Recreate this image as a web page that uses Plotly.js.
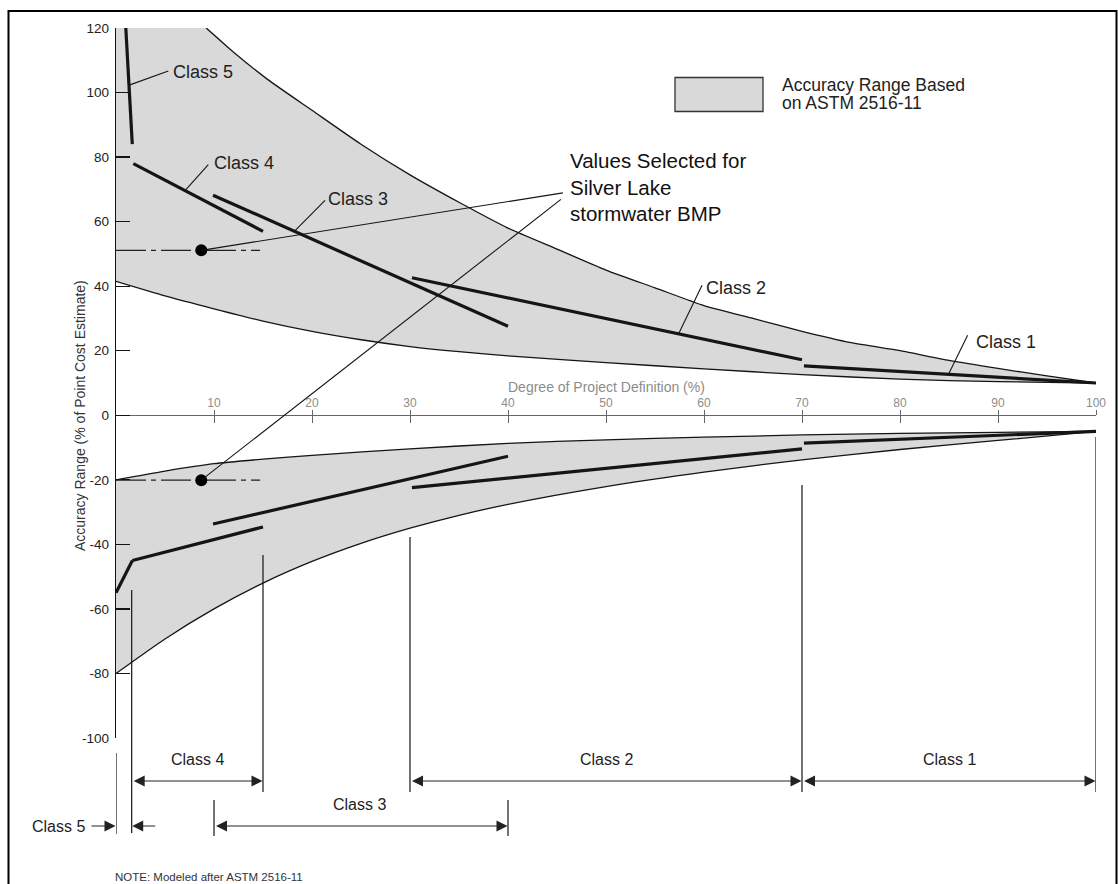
<!DOCTYPE html>
<html><head><meta charset="utf-8">
<script src="https://cdn.plot.ly/plotly-3.0.1.min.js"></script>
<style>html,body{margin:0;padding:0;background:#fff}</style>
</head><body><div id="chart" style="width:1118px;height:884px"></div>
<script>
// ---------- data ----------
// upper (overrun) accuracy band
const upperBandHighX = [9.2, 12, 15.5, 20, 25, 30, 35, 40, 45, 50, 55, 60, 65, 70, 75, 80, 85, 90, 95, 100];
const upperBandHighY = [120, 112.5, 104, 94.5, 84, 74.5, 66, 58, 51.5, 45, 39.5, 34, 30, 26, 22.5, 20, 17, 14.5, 12.2, 10];
const upperBandLowX = [0, 5, 10, 15, 20, 25, 30, 35, 40, 50, 60, 70, 80, 90, 100];
const upperBandLowY = [41.5, 37, 33, 29.2, 26, 23.4, 21.3, 19.7, 18.4, 16.3, 14.4, 12.6, 11.2, 10.4, 10];
// lower (underrun) accuracy band
const lowerBandHighX = [0, 5, 10, 15, 20, 30, 40, 50, 60, 70, 80, 90, 100];
const lowerBandHighY = [-20, -17.3, -15, -13.6, -12.4, -10.4, -8.7, -7.6, -6.8, -6.1, -5.6, -5.3, -5];
const lowerBandLowX = [0, 5, 10, 15, 20, 25, 30, 35, 40, 50, 60, 70, 80, 90, 100];
const lowerBandLowY = [-80, -69.3, -60, -52, -45.3, -39.7, -35, -31, -27.6, -22.1, -17.6, -13.8, -10.6, -7.8, -5];
// class lines
const classNames = ['Class 5', 'Class 4', 'Class 3', 'Class 2', 'Class 1'];
const classUpperX = [[1.0, 1.66], [1.77, 15], [9.9, 40], [30.2, 70], [70.2, 100]];
const classUpperY = [[120, 84], [78, 57], [68.2, 27.6], [42.6, 17.2], [15.3, 10]];
const classLowerX = [[0, 1.67], [1.67, 15], [9.9, 40], [30.2, 70], [70.2, 100]];
const classLowerY = [[-55, -45], [-45, -34.6], [-33.7, -12.7], [-22.4, -10.4], [-8.6, -5]];
// project definition range for each class (%)
const classRangeStart = [0, 1.6, 10, 30, 70];
const classRangeEnd = [1.6, 15, 40, 70, 100];
// selected values
const selectedDefinition = 8.7;
const selectedHigh = 51.1;
const selectedLow = -20.1;
const selectedLineEnd = 14.7;
// axis ticks
const xTickVals = [10, 20, 30, 40, 50, 60, 70, 80, 90, 100];
const yTickVals = [-100, -80, -60, -40, -20, 0, 20, 40, 60, 80, 100, 120];

// ---------- layout helpers ----------
const W = 1118, H = 884, ML = 116, MR = 22, MT = 28, MB = 146;
const PW = W - ML - MR, PH = H - MT - MB;
const pX = v => (v - ML) / PW;          // pixel -> paper x
const pY = v => (H - MB - v) / PH;      // pixel -> paper y
const FONT = 'Liberation Sans, Arial, sans-serif';
const INK = '#151515';

const traces = [];
traces.push({
  x: [0].concat(upperBandHighX, upperBandLowX.slice().reverse()),
  y: [120].concat(upperBandHighY, upperBandLowY.slice().reverse()),
  mode: 'lines', fill: 'toself', fillcolor: '#d9d9d9', line: {width: 0, shape: 'spline', smoothing: 0.6}, hoverinfo: 'skip'
});
traces.push({
  x: lowerBandHighX.concat(lowerBandLowX.slice().reverse()),
  y: lowerBandHighY.concat(lowerBandLowY.slice().reverse()),
  mode: 'lines', fill: 'toself', fillcolor: '#d9d9d9', line: {width: 0, shape: 'spline', smoothing: 0.6}, hoverinfo: 'skip'
});
[[upperBandHighX, upperBandHighY], [upperBandLowX, upperBandLowY],
 [lowerBandHighX, lowerBandHighY], [lowerBandLowX, lowerBandLowY]].forEach(([x, y]) => {
  traces.push({x: x, y: y, mode: 'lines', line: {color: INK, width: 1.3, shape: 'spline', smoothing: 0.6}, hoverinfo: 'skip'});
});
classNames.forEach((n, i) => {
  traces.push({x: classUpperX[i], y: classUpperY[i], mode: 'lines', name: n, line: {color: INK, width: 3.2}, hoverinfo: 'skip'});
  traces.push({x: classLowerX[i], y: classLowerY[i], mode: 'lines', name: n, line: {color: INK, width: 3.2}, hoverinfo: 'skip'});
});
[selectedHigh, selectedLow].forEach(v => {
  traces.push({x: [0, selectedLineEnd], y: [v, v], mode: 'lines', line: {color: '#222', width: 1.3, dash: '30px,5px,5px,5px'}, hoverinfo: 'skip'});
});
traces.push({x: [selectedDefinition, selectedDefinition], y: [selectedHigh, selectedLow], mode: 'markers',
  marker: {color: '#000', size: 12}, hoverinfo: 'skip'});
// secondary axis carrying the upward half of the x ticks
traces.push({x: [], y: [], xaxis: 'x2', mode: 'lines', hoverinfo: 'skip'});

const shapes = [];
const annotations = [];
const thin = {color: INK, width: 1.1};

// frame and legend box
shapes.push({type: 'rect', xref: 'paper', yref: 'paper', x0: pX(8.5), x1: pX(1116.5), y0: pY(11), y1: pY(905), line: {color: '#000', width: 2}});
shapes.push({type: 'rect', xref: 'paper', yref: 'paper', x0: pX(675), x1: pX(763), y0: pY(77.5), y1: pY(111.5), fillcolor: '#d9d9d9', line: {color: '#333', width: 1.3}});
annotations.push({xref: 'paper', yref: 'paper', x: pX(780), y: pY(84.5), xanchor: 'left', yanchor: 'middle', showarrow: false,
  text: 'Accuracy Range Based', font: {family: FONT, size: 17.5, color: '#222'}});
annotations.push({xref: 'paper', yref: 'paper', x: pX(780), y: pY(103.5), xanchor: 'left', yanchor: 'middle', showarrow: false,
  text: 'on ASTM 2516-11', font: {family: FONT, size: 17.5, color: '#222'}});

// upper class labels with leader lines
const labelPos = [
  {x: 5.6, y: 106.4, l: [1.35, 102.3, 5.34, 106.7]},
  {x: 9.8, y: 78.3, l: [7.04, 69.6, 9.42, 77.7]},
  {x: 21.4, y: 67.1, l: [18.27, 57.2, 21.33, 66.6]},
  {x: 60.0, y: 39.4, l: [57.4, 25.2, 59.8, 40.3]},
  {x: 87.5, y: 22.7, l: [84.9, 12.4, 86.9, 24.8]}
];
classNames.forEach((n, i) => {
  const p = labelPos[i];
  annotations.push({x: p.x, y: p.y, xref: 'x', yref: 'y', xanchor: 'left', yanchor: 'middle', showarrow: false,
    text: n, font: {family: FONT, size: 18, color: '#222'}});
  shapes.push({type: 'line', xref: 'x', yref: 'y', x0: p.l[0], y0: p.l[1], x1: p.l[2], y1: p.l[3], line: thin});
});

// selected values callout
annotations.push({x: 46.1, y: 70.6, xref: 'x', yref: 'y', xanchor: 'left', yanchor: 'middle', align: 'left', showarrow: false,
  text: 'Values Selected for<br>Silver Lake<br>stormwater BMP', font: {family: FONT, size: 20.5, color: '#111'}});
shapes.push({type: 'line', xref: 'x', yref: 'y', x0: selectedDefinition, y0: selectedHigh, x1: 45.6, y1: 68.9, line: thin});
shapes.push({type: 'line', xref: 'x', yref: 'y', x0: selectedDefinition, y0: selectedLow, x1: 45.4, y1: 66.9, line: thin});

// vertical boundary lines below the chart
const vlines = [
  [classRangeStart[0], 753, 834], [classRangeEnd[0], 590, 833],
  [classRangeEnd[1], 555, 792], [classRangeStart[2], 800, 836], [classRangeEnd[2], 800, 836],
  [classRangeStart[3], 537, 792], [classRangeEnd[3], 485, 792], [classRangeEnd[4], 437, 792]
];
vlines.forEach(v => shapes.push({type: 'line', xref: 'x', yref: 'paper', x0: v[0], x1: v[0], y0: pY(v[1]), y1: pY(v[2]), line: {color: INK, width: 1.2}}));

// double-headed range arrows
const arrowRows = [null, 781, 826, 781, 781];
const arrowStyle = {showarrow: true, arrowhead: 2, arrowsize: 2.2, arrowwidth: 1, arrowcolor: '#222', text: ''};
for (let i = 1; i < 5; i++) {
  annotations.push(Object.assign({}, arrowStyle, {xref: 'x', yref: 'paper', x: classRangeEnd[i], y: pY(arrowRows[i]),
    axref: 'x', ayref: 'pixel', ax: classRangeStart[i], ay: 0, arrowside: 'end+start', standoff: 0.5, startstandoff: 0.5}));
  annotations.push({xref: 'x', yref: 'paper', x: (classRangeStart[i] + classRangeEnd[i]) / 2 - (i === 2 ? 0.2 : 0), y: pY(arrowRows[i] - 11),
    showarrow: false, text: classNames[i], font: {family: FONT, size: 16, color: '#222'}});
}
// Class 5 pointer arrows
annotations.push(Object.assign({}, arrowStyle, {xref: 'x', yref: 'paper', x: classRangeStart[0], y: pY(826), ax: -26, ay: 0, standoff: 0.5}));
annotations.push(Object.assign({}, arrowStyle, {xref: 'x', yref: 'paper', x: classRangeEnd[0], y: pY(826), ax: 25, ay: 0, standoff: 0.5}));
annotations.push({xref: 'paper', yref: 'paper', x: pX(87), y: pY(826), xanchor: 'right', yanchor: 'middle', showarrow: false,
  text: 'Class 5', font: {family: FONT, size: 16, color: '#222'}});

// axis titles and note
annotations.push({xref: 'x', yref: 'paper', x: 50, y: pY(387), showarrow: false,
  text: 'Degree of Project Definition (%)', font: {family: FONT, size: 14, color: '#8c8c8c'}});
annotations.push({xref: 'paper', yref: 'paper', x: pX(70), y: pY(416), showarrow: false, textangle: -90,
  text: 'Accuracy Range (% of Point Cost Estimate)', font: {family: FONT, size: 14, color: '#333'}});
annotations.push({xref: 'paper', yref: 'paper', x: pX(113), y: pY(877), xanchor: 'left', yanchor: 'middle', showarrow: false,
  text: 'NOTE: Modeled after ASTM 2516-11', font: {family: FONT, size: 11.5, color: '#333'}});

const axisPos = (0 - (-100)) / 220;
const layout = {
  width: W, height: H,
  margin: {l: ML, r: MR, t: MT, b: MB, pad: 0},
  paper_bgcolor: '#fff', plot_bgcolor: '#fff',
  showlegend: false,
  font: {family: FONT},
  xaxis: {range: [0, 100], domain: [0, 1], anchor: 'free', position: axisPos, side: 'top',
    showline: true, linecolor: '#666', linewidth: 1, ticks: 'inside', ticklen: 7, tickcolor: '#666', tickwidth: 1,
    tickvals: xTickVals, ticktext: xTickVals.map(String), tickfont: {size: 12, color: '#8c8c8c'}, ticklabelstandoff: 3,
    showgrid: false, zeroline: false, automargin: false, fixedrange: true},
  xaxis2: {range: [0, 100], overlaying: 'x', anchor: 'free', position: axisPos, side: 'top',
    showline: false, ticks: 'outside', ticklen: 5, tickcolor: '#666', tickwidth: 1,
    tickvals: xTickVals, showticklabels: false, showgrid: false, zeroline: false, automargin: false, fixedrange: true},
  yaxis: {range: [-100, 120], domain: [0, 1], showline: true, linecolor: INK, linewidth: 1.3,
    ticks: 'inside', ticklen: 14, tickwidth: 1.3, tickcolor: INK,
    tickvals: yTickVals, ticktext: yTickVals.map(v => (v < 0 ? '-' + Math.abs(v) : String(v))),
    tickfont: {size: 13.5, color: '#222'}, ticklabelstandoff: 3,
    showgrid: false, zeroline: false, automargin: false, fixedrange: true},
  shapes: shapes,
  annotations: annotations
};
Plotly.newPlot('chart', traces, layout, {displayModeBar: false, staticPlot: true});
</script>
</body></html>
